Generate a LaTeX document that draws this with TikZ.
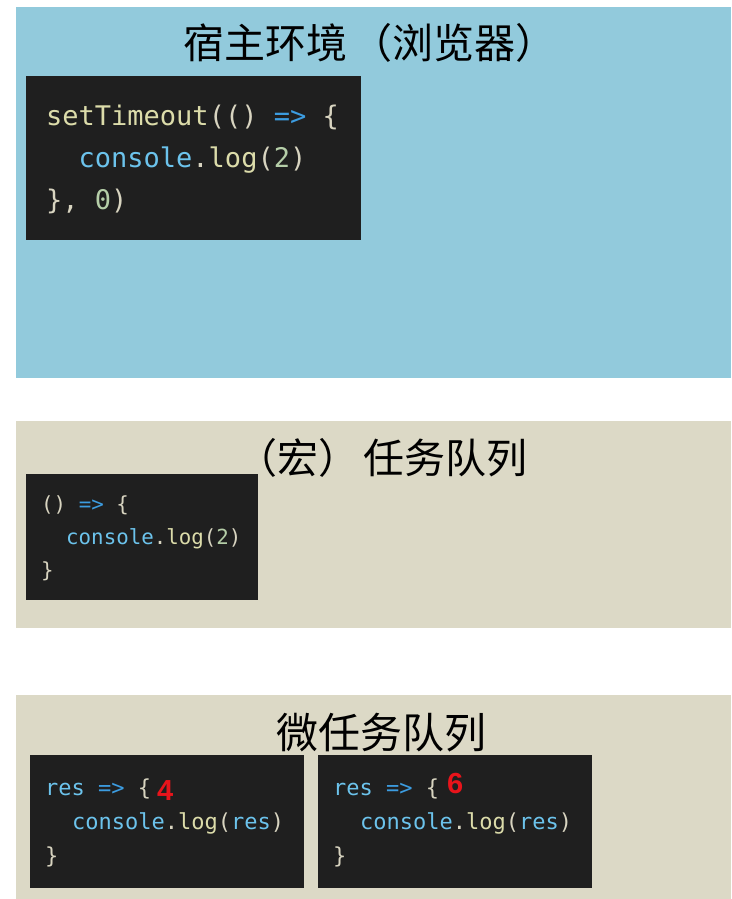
\documentclass[tikz,border=0pt]{standalone}
\usepackage{fontspec}
\newfontfamily\cjk{Noto Sans CJK SC}
\newfontfamily\codefont{DejaVu Sans Mono}
\newfontfamily\numfont{Liberation Sans}
\definecolor{hostbg}{HTML}{92CADC}
\definecolor{queuebg}{HTML}{DCD9C6}
\definecolor{codebg}{HTML}{1F1F1F}
\definecolor{cfn}{HTML}{DCDCAA}
\definecolor{cpun}{HTML}{D8D4C0}
\definecolor{ckw}{HTML}{3C9CE0}
\definecolor{cvar}{HTML}{6CC3EC}
\definecolor{cnum}{HTML}{B5CEA8}
\definecolor{mark}{HTML}{E8141B}
\newcommand{\fn}[1]{\textcolor{cfn}{#1}}
\newcommand{\pu}[1]{\textcolor{cpun}{#1}}
\newcommand{\kw}[1]{\textcolor{ckw}{#1}}
\newcommand{\va}[1]{\textcolor{cvar}{#1}}
\newcommand{\nm}[1]{\textcolor{cnum}{#1}}
\begin{document}
\begin{tikzpicture}[x=1pt,y=-1pt,
  title/.style={inner sep=0pt,font=\cjk\fontsize{41}{41}\selectfont,text=black},
  codeA/.style={anchor=base west,inner sep=0pt,font=\codefont\fontsize{27}{27}\selectfont},
  codeB/.style={anchor=base west,inner sep=0pt,font=\codefont\fontsize{20.8}{20.8}\selectfont},
  codeC/.style={anchor=base west,inner sep=0pt,font=\codefont\fontsize{22}{22}\selectfont},
  marknum/.style={anchor=base west,inner sep=0pt,text=mark,font=\numfont\bfseries\fontsize{29}{29}\selectfont}]
\useasboundingbox (0,0) rectangle (731,899);
\fill[white] (0,0) rectangle (731,899);
% panels
\fill[hostbg] (16,7) rectangle (731,378);
\fill[queuebg] (16,421) rectangle (731,628);
\fill[queuebg] (16,695) rectangle (731,899);
% code boxes
\fill[codebg] (26,76) rectangle (361,240);
\fill[codebg] (26,474) rectangle (258,600);
\fill[codebg] (30,755) rectangle (304,888);
\fill[codebg] (318,755) rectangle (592,888);
% titles
\node[title] (t1) at (370,43) {宿主环境\hspace{4pt}（浏览器）};
\node[title] (t2) at (382,458) {（宏）\hspace{4pt}任务队列};
\node[title] (t3) at (381,733) {\fontsize{42}{42}\selectfont 微任务队列};
% box 1
\node[codeA] (a1) at (46,125) {\fn{setTimeout}\pu{(()} \kw{=>} \pu{\{}};
\node[codeA] (a2) at (78.5,167) {\va{console}\pu{.}\fn{log}\pu{(}\nm{2}\pu{)}};
\node[codeA] (a3) at (46,209) {\pu{\},} \nm{0}\pu{)}};
% box 2
\node[codeB] (b1) at (41,511) {\pu{()} \kw{=>} \pu{\{}};
\node[codeB] (b2) at (66,544) {\va{console}\pu{.}\fn{log}\pu{(}\nm{2}\pu{)}};
\node[codeB] (b3) at (41,577) {\pu{\}}};
% box 3
\node[codeC] (c1) at (45,795) {\va{res} \kw{=>} \pu{\{}};
\node[codeC] (c2) at (72,829) {\va{console}\pu{.}\fn{log}\pu{(}\va{res}\pu{)}};
\node[codeC] (c3) at (45,863) {\pu{\}}};
\node[marknum] (n4) at (157,800) {4};
% box 4
\node[codeC] (d1) at (333,795) {\va{res} \kw{=>} \pu{\{}};
\node[codeC] (d2) at (360,829) {\va{console}\pu{.}\fn{log}\pu{(}\va{res}\pu{)}};
\node[codeC] (d3) at (333,863) {\pu{\}}};
\node[marknum] (n6) at (447,793) {6};
\end{tikzpicture}
\end{document}
